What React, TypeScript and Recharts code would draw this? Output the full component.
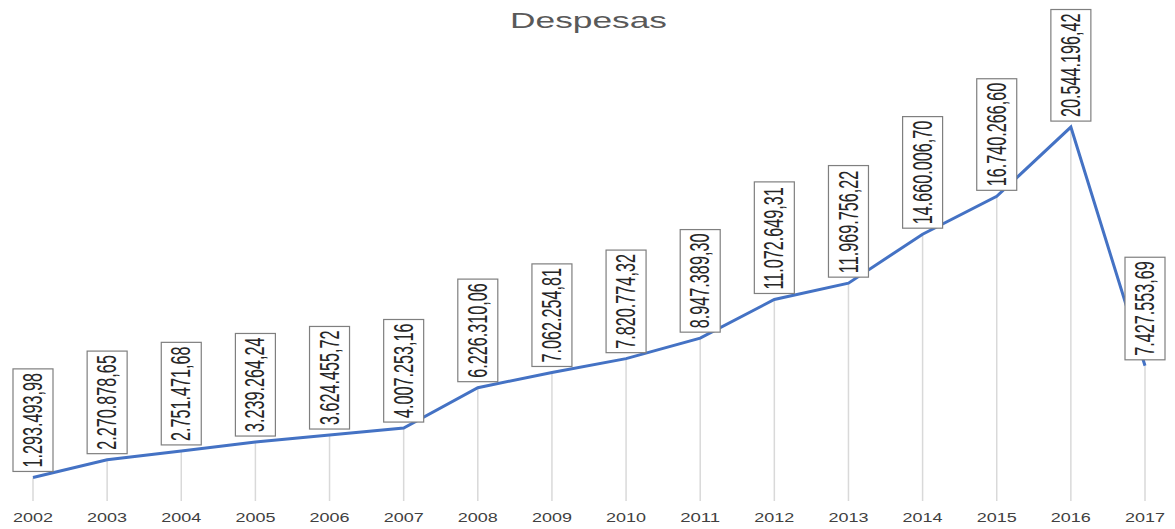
import React from 'react';
import {
  LineChart,
  Line,
  XAxis,
  YAxis,
  LabelList,
  ReferenceLine,
} from 'recharts';

const years = ['2002', '2003', '2004', '2005', '2006', '2007', '2008', '2009', '2010', '2011', '2012', '2013', '2014', '2015', '2016', '2017'];

const despesas = [
  1293493.98, 2270878.65, 2751471.68, 3239264.24, 3624455.72, 4007253.16,
  6226310.06, 7062254.81, 7820774.32, 8947389.3, 11072649.31, 11969756.22,
  14660006.7, 16740266.6, 20544196.42, 7427553.69,
];

const data = years.map((year, i) => ({ year, value: despesas[i] }));

// 1234567.8 -> "1.234.567,80"
const formatBR = (v: number) => {
  const [int, dec] = v.toFixed(2).split('.');
  return int.replace(/\B(?=(\d{3})+(?!\d))/g, '.') + ',' + dec;
};

const LABEL_FONT = 16.2;

const ValueLabel = (props: any) => {
  const { x, y, value } = props;
  if (x == null || y == null) return null;
  const text = formatBR(value);
  const digits = text.replace(/[^0-9]/g, '').length;
  const punct = text.length - digits;
  const len = digits * LABEL_FONT * 0.556 + punct * LABEL_FONT * 0.278;
  const pad = 4;
  return (
    <g transform={`translate(${x},${y - 6}) rotate(-90)`}>
      <rect x={0} y={-20} width={len + pad * 2} height={40} fill="#fff" stroke="#7f7f7f" strokeWidth={1.2} />
      <text
        x={pad}
        y={0}
        dominantBaseline="central"
        transform="scale(1,1.65)"
        fontFamily="'Liberation Sans', Arial, sans-serif"
        fontSize={LABEL_FONT}
        fill="#262626"
      >
        {text}
      </text>
    </g>
  );
};

const YearTick = (props: any) => {
  const { x, y, payload } = props;
  return (
    <text
      x={x}
      y={y}
      dy={13}
      textAnchor="middle"
      textLength={40}
      lengthAdjust="spacingAndGlyphs"
      fontFamily="'Liberation Sans', Arial, sans-serif"
      fontSize={12.5}
      fill="#404040"
    >
      {payload.value}
    </text>
  );
};

export default function App() {
  return (
    <div style={{ position: 'relative', width: 1175, height: 529, background: '#fff' }}>
      <style>{'body{margin:0}'}</style>
      <svg style={{ position: 'absolute', left: 0, top: 0 }} width={1175} height={40}>
        <text
          x={510}
          y={28}
          textLength={157}
          lengthAdjust="spacingAndGlyphs"
          fontFamily="'Liberation Sans', Arial, sans-serif"
          fontSize={22}
          fill="#595959"
        >
          Despesas
        </text>
      </svg>
      <LineChart width={1175} height={529} data={data} margin={{ top: 46, right: 30, left: 33, bottom: 0 }}>
        <XAxis dataKey="year" axisLine={false} tickLine={false} height={28} tick={<YearTick />} interval={0} />
        <YAxis hide domain={[0, 25000000]} />
        {data.map((d) => (
          <ReferenceLine
            key={d.year}
            segment={[{ x: d.year, y: 0 }, { x: d.year, y: d.value }]}
            stroke="#d9d9d9"
            strokeWidth={1.5}
          />
        ))}
        <Line
          type="linear"
          dataKey="value"
          stroke="#4472c4"
          strokeWidth={3}
          dot={false}
          isAnimationActive={false}
        >
          <LabelList dataKey="value" content={<ValueLabel />} />
        </Line>
      </LineChart>
    </div>
  );
}
